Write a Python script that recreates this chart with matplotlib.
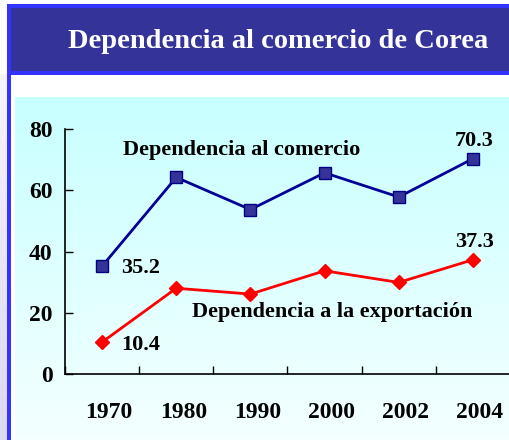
import numpy as np
import matplotlib
matplotlib.use("Agg")
import matplotlib.pyplot as plt
from matplotlib.patches import Rectangle
from matplotlib.colors import LinearSegmentedColormap
from matplotlib.transforms import ScaledTranslation

years = ['1970', '1980', '1990', '2000', '2002', '2004']
trade_dep = [35.2, 64.2, 53.7, 65.7, 57.8, 70.3]
export_dep = [10.4, 28.0, 26.1, 33.7, 29.9, 37.3]
y_ticks = [0, 20, 40, 60, 80]
title = 'Dependencia al comercio de Corea'
trade_name = 'Dependencia al comercio'
export_name = 'Dependencia a la exportación'

W, H = 510, 440
fig = plt.figure(figsize=(W / 100, H / 100), dpi=100)
fig.patch.set_facecolor('white')
SERIF = ['Liberation Serif', 'DejaVu Serif']


def prect(xa, ya, xb, yb, color, z):
    """Rectangle given in pixel coordinates (top-left origin)."""
    r = Rectangle((xa / W, 1 - yb / H), (xb - xa) / W, (yb - ya) / H,
                  transform=fig.transFigure, facecolor=color, edgecolor='none',
                  zorder=z, figure=fig)
    fig.patches.append(r)


# gradients
bg = fig.add_axes([0, 0, 1, 1], zorder=0)
bg.axis('off')
lav = LinearSegmentedColormap.from_list('lav', ['#F6F4FC', '#DCD8F0'])
bg.imshow(np.linspace(0, 1, 100).reshape(-1, 1), cmap=lav, aspect='auto',
          extent=(0, 7.5, H, 74), zorder=0)
cy = LinearSegmentedColormap.from_list('cy', ['#C8FFFF', '#F4FFFF'])
bg.imshow(np.linspace(0, 1, 100).reshape(-1, 1), cmap=cy, aspect='auto',
          extent=(15, W, H, 97), zorder=0)
bg.set_xlim(0, W)
bg.set_ylim(H, 0)

# banner: dark fill with bright blue border on top, left and bottom
prect(11, 8, W, 71, '#333399', 1)
prect(7, 4, W, 8, '#3333FF', 1)
prect(7, 71, W, 75, '#3333FF', 1)
prect(7, 4, 11, 75, '#3333FF', 1)
# left vertical border below banner
prect(7.5, 75, 11, H, '#3333FF', 1)
fig.text(278 / W, 1 - 41 / H, title, color='white', fontsize=20.5, fontweight='bold',
         family=SERIF, ha='center', va='center', zorder=3)

# main axes
x0, x1, ytop, ybot = 65, 510, 129, 374
ax = fig.add_axes([x0 / W, (H - ybot) / H, (x1 - x0) / W, (ybot - ytop) / H], zorder=1)
ax.patch.set_alpha(0)
x = np.arange(len(years))
ax.plot(x, trade_dep, color='#000099', lw=2, marker='s', ms=8.5,
        mfc='#333399', mec='#000080', mew=1, zorder=3, clip_on=False)
ax.plot(x, export_dep, color='#FF0000', lw=2, marker='D', ms=7,
        mfc='#FF0000', mec='#FF0000', zorder=3, clip_on=False)
ax.set_xlim(-0.5, len(years) - 0.5)
ax.set_ylim(0, 80)
ax.set_yticks(y_ticks)
ax.set_xticks(np.arange(len(years) + 1) - 0.5, minor=False)
ax.set_xticklabels([])
ax.set_xticks(x, minor=True)
ax.set_xticklabels(years, minor=True)
ax.tick_params(axis='x', which='major', direction='in', length=6, width=1, color='black')
ax.tick_params(axis='x', which='minor', length=0, pad=20, labelsize=17)
ax.tick_params(axis='y', direction='in', length=6, width=1, pad=9, labelsize=17)
for lab in ax.get_xticklabels(minor=True) + ax.get_yticklabels():
    lab.set_fontfamily(SERIF)
    lab.set_fontweight('bold')
for lab in ax.get_xticklabels(minor=True):
    lab.set_transform(lab.get_transform() + ScaledTranslation(7 / 100, 0, fig.dpi_scale_trans))
for s in ['top', 'right']:
    ax.spines[s].set_visible(False)
ax.spines['left'].set_linewidth(1.2)
ax.spines['bottom'].set_linewidth(1.2)

lbl = dict(fontsize=16, fontweight='bold', family=SERIF, color='black')
ax.annotate(f'{trade_dep[0]}', (x[0], trade_dep[0]), xytext=(14, -1), textcoords='offset points',
            ha='left', va='center', **lbl)
ax.annotate(f'{export_dep[0]}', (x[0], export_dep[0]), xytext=(14, -2), textcoords='offset points',
            ha='left', va='center', **lbl)
ax.annotate(f'{trade_dep[-1]}', (x[-1], trade_dep[-1]), xytext=(1, 12.5), textcoords='offset points',
            ha='center', va='center', **lbl)
ax.annotate(f'{export_dep[-1]}', (x[-1], export_dep[-1]), xytext=(1, 12.5), textcoords='offset points',
            ha='center', va='center', **lbl)
ax.text(0.28, 73.2, trade_name, ha='left', va='center', **lbl)
ax.text(1.21, 20.3, export_name, ha='left', va='center', **lbl)

fig.savefig('out.png', dpi=100)
